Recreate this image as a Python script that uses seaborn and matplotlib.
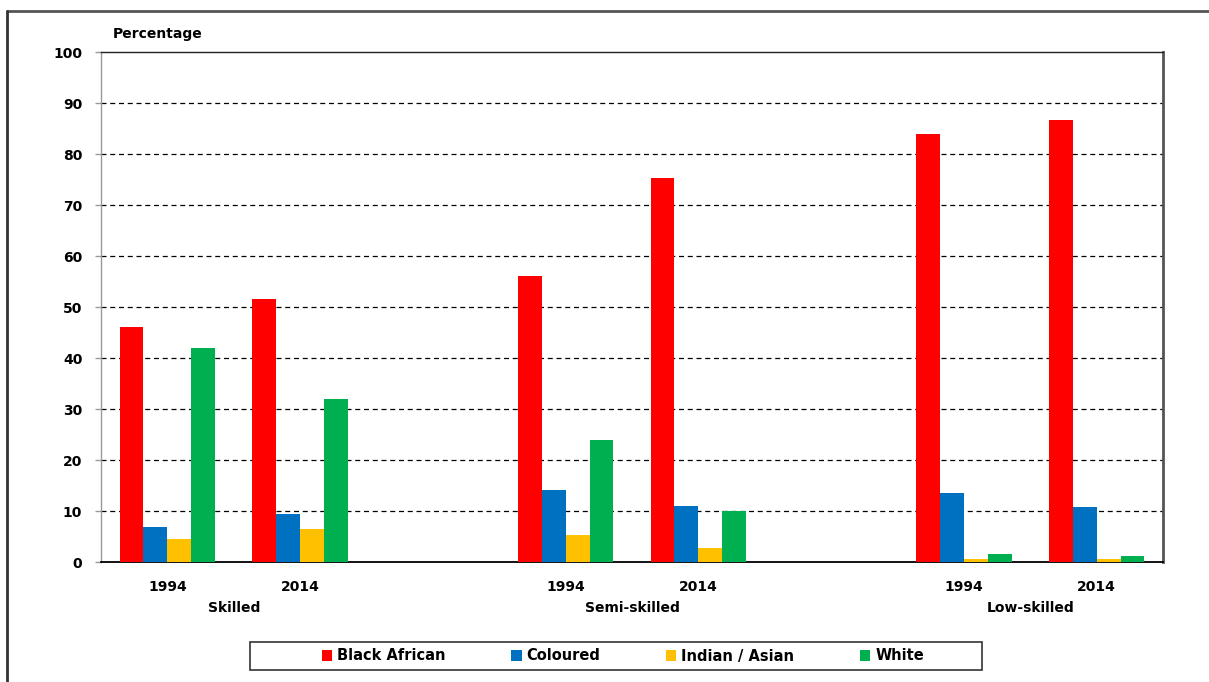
import matplotlib
matplotlib.use("Agg")
import matplotlib.pyplot as plt
import seaborn as sns
import pandas as pd
from matplotlib.patches import Rectangle
from matplotlib.lines import Line2D

# Data: share of employment by population group (%)
skill_levels = ["Skilled", "Semi-skilled", "Low-skilled"]
years = ["1994", "2014"]
groups = ["Black African", "Coloured", "Indian / Asian", "White"]

black_african = [46.1, 51.6, 56.1, 75.4, 83.9, 86.8]
coloured = [6.9, 9.4, 14.2, 11.1, 13.5, 10.9]
indian_asian = [4.5, 6.5, 5.4, 2.8, 0.7, 0.7]
white = [42.0, 32.0, 23.9, 10.1, 1.7, 1.2]

colors = ["#FF0000", "#0070C0", "#FFC000", "#00B050"]
yticks = list(range(0, 101, 10))

# Long-form table; each skill level takes three slots (two years plus a spacer)
rows = []
series = [black_african, coloured, indian_asian, white]
for gi, (gname, vals) in enumerate(zip(groups, series)):
    k = 0
    for si, skill in enumerate(skill_levels):
        for yi, yr in enumerate(years):
            rows.append({"slot": si * 3 + yi, "skill": skill, "year": yr,
                         "group": gname, "value": vals[k]})
            k += 1
df = pd.DataFrame(rows)

sns.set_theme(style="white")
plt.rcParams["font.family"] = ["DejaVu Sans"]
plt.rcParams["font.weight"] = "bold"
plt.rcParams["text.color"] = "black"
plt.rcParams["xtick.labelcolor"] = "black"
plt.rcParams["ytick.labelcolor"] = "black"

fig = plt.figure(figsize=(12.09, 6.82), dpi=100)
ax = fig.add_axes([101 / 1209, 1 - 562.3 / 682, 1062 / 1209, 510 / 682])

sns.barplot(data=df, x="slot", y="value", hue="group", hue_order=groups,
            palette=colors, native_scale=True, width=0.72, gap=0,
            saturation=1, linewidth=0, legend=False, ax=ax, zorder=3)

ax.set_xlim(-0.5, 7.5)
ax.set_ylim(0, 100)
ax.set_yticks(yticks)
ax.set_yticklabels([str(t) for t in yticks], fontsize=10, fontweight="bold",
                   color="black")
ax.set_xlabel("")
ax.set_ylabel("")

# Year tick labels under each bar group
slots = sorted(df["slot"].unique())
ax.set_xticks(slots)
ax.set_xticklabels([years[s % 3] for s in slots], fontsize=10,
                   fontweight="bold", color="black")
ax.tick_params(axis="x", length=0, pad=13)
ax.tick_params(axis="y", length=4.5, width=1, color="#999999", pad=9,
               direction="out", left=True)

# Skill level labels centred under each pair of years
for si, skill in enumerate(skill_levels):
    ax.text(si * 3 + 0.5, -0.089, skill, transform=ax.get_xaxis_transform(),
            ha="center", va="center", fontsize=10, fontweight="bold",
            color="black")

# Dashed horizontal gridlines
for t in yticks[1:-1]:
    ax.axhline(t, color="black", lw=0.9, ls=(0, (4, 3)), zorder=1)

for side, col, lw in [("top", "#222222", 1.0), ("bottom", "black", 1.3),
                      ("left", "#999999", 1.0), ("right", "#555555", 2.0)]:
    ax.spines[side].set_visible(True)
    ax.spines[side].set_color(col)
    ax.spines[side].set_linewidth(lw)

fig.text(113 / 1209, 1 - 34 / 682, "Percentage", ha="left", va="center",
         fontsize=10, fontweight="bold", color="black")

# Legend in a boxed strip below the chart
handles = [Rectangle((0, 0), 1, 1, facecolor=c, edgecolor="none") for c in colors]
leg = fig.legend(handles, groups, loc="center", ncol=4,
                 bbox_to_anchor=(623 / 1209, 1 - 656 / 682), frameon=False,
                 prop={"size": 10.5, "weight": "bold"}, handlelength=0.7,
                 handleheight=0.7, handletextpad=0.35, columnspacing=4.5)
for txt in leg.get_texts():
    txt.set_color("black")
fig.add_artist(Rectangle((250 / 1209, 1 - 670 / 682), 732 / 1209, 28 / 682,
                         transform=fig.transFigure, fill=False,
                         edgecolor="#333333", lw=1.2))

# Outer frame lines (top and left)
fig.add_artist(Line2D([7 / 1209, 1.0], [1 - 11 / 682, 1 - 11 / 682],
                      transform=fig.transFigure, color="#555555", lw=2))
fig.add_artist(Line2D([7 / 1209, 7 / 1209], [0.0, 1 - 11 / 682],
                      transform=fig.transFigure, color="#333333", lw=2))

fig.savefig("out.png", dpi=100)
